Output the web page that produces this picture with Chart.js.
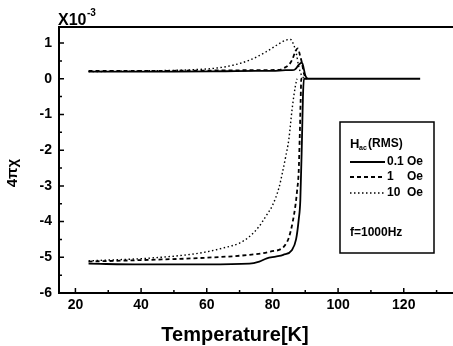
<!DOCTYPE html>
<html>
<head>
<meta charset="utf-8">
<script src="https://cdn.jsdelivr.net/npm/chart.js@4.4.1/dist/chart.umd.min.js"></script>
<style>
  html, body { margin: 0; padding: 0; background: #fff; }
  canvas { display: block; }
</style>
</head>
<body>
<canvas id="chiChart" width="453" height="346"></canvas>
<script>
// 4πχ (x10^-3) vs temperature, three ac field amplitudes
const tempSolidLow  = [24, 40, 60, 73, 76, 78.3, 81, 83.3, 85.9, 87.2, 88, 88.5, 89, 89.3, 89.6, 100, 125];
const chiSolidLow   = [-5.18, -5.2, -5.2, -5.18, -5.12, -5.03, -4.98, -4.93, -4.8, -4.5, -3.95, -3.4, -1.7, -0.5, 0, 0, 0];
const tempSolidHigh = [24, 35, 50, 65, 75, 80, 84, 86, 87, 88, 89, 90, 90.6];
const chiSolidHigh  = [0.2, 0.2, 0.2, 0.21, 0.22, 0.22, 0.24, 0.24, 0.27, 0.39, 0.45, 0.1, 0];

const tempDashLow  = [24, 43, 58, 73, 79.4, 83.5, 85, 86.2, 87, 87.5, 88, 88.3, 88.6, 88.8, 90];
const chiDashLow   = [-5.12, -5.07, -5.02, -4.93, -4.84, -4.7, -4.45, -4.0, -3.55, -3.15, -2.6, -1.7, -0.6, 0, 0];
const tempDashHigh = [24, 40, 60, 75, 82, 83.5, 85, 86, 87, 87.7, 88.5, 89, 89.6, 90.4];
const chiDashHigh  = [0.22, 0.22, 0.23, 0.24, 0.25, 0.3, 0.39, 0.53, 0.76, 0.85, 0.62, 0.44, 0.15, 0];

const tempDotLow  = [24, 43, 58, 65, 70, 73, 76, 78, 80, 82, 83, 84, 85, 86, 87, 87.5];
const chiDotLow   = [-5.1, -5.02, -4.88, -4.74, -4.6, -4.42, -4.13, -3.85, -3.55, -3.05, -2.65, -2.2, -1.7, -0.85, -0.2, 0];
const tempDotHigh = [24, 40, 55, 63, 68, 73, 78, 82, 84, 85.5, 86.5, 87.3, 88, 89, 90.5];
const chiDotHigh  = [0.2, 0.22, 0.25, 0.3, 0.38, 0.52, 0.75, 0.98, 1.08, 1.1, 0.95, 0.7, 0.35, 0.08, 0];

const xMajorTicks = [20, 40, 60, 80, 100, 120];
const xMinorTicks = [30, 50, 70, 90, 110, 130];
const yMajorTicks = [-6, -5, -4, -3, -2, -1, 0, 1];
const yMinorTicks = [-5.5, -4.5, -3.5, -2.5, -1.5, -0.5, 0.5];

const legendLabels = ["0.1", "1", "10"];
const FONT = "'Liberation Sans', Arial, sans-serif";

function pts(xs, ys) {
    return xs.map((x, i) => ({ x: x, y: ys[i] }));
}

function series(xs, ys, width, dash) {
    return {
        data: pts(xs, ys),
        borderColor: "#000",
        borderWidth: width,
        borderDash: dash,
        pointRadius: 0,
        fill: false,
        cubicInterpolationMode: "monotone"
    };
}

const SOLID = [], DASH = [4, 3], DOT = [1.5, 2.5];

const overlay = {
    id: "overlay",
    afterDraw(chart) {
        const ctx = chart.ctx;
        const area = chart.chartArea;
        const xs = chart.scales.x, ys = chart.scales.y;

        ctx.save();
        ctx.strokeStyle = "#000";
        ctx.fillStyle = "#000";

        // top frame
        ctx.lineWidth = 2;
        ctx.beginPath();
        ctx.moveTo(area.left - 1, area.top);
        ctx.lineTo(area.right, area.top);
        ctx.stroke();

        // inward tick marks
        ctx.lineWidth = 1.5;
        ctx.beginPath();
        xMajorTicks.forEach(v => { const p = xs.getPixelForValue(v); ctx.moveTo(p, area.bottom); ctx.lineTo(p, area.bottom - 5); });
        xMinorTicks.forEach(v => { const p = xs.getPixelForValue(v); ctx.moveTo(p, area.bottom); ctx.lineTo(p, area.bottom - 3); });
        yMajorTicks.forEach(v => { const p = ys.getPixelForValue(v); ctx.moveTo(area.left, p); ctx.lineTo(area.left + 5, p); });
        yMinorTicks.forEach(v => { const p = ys.getPixelForValue(v); ctx.moveTo(area.left, p); ctx.lineTo(area.left + 3, p); });
        ctx.stroke();

        // multiplier
        ctx.textBaseline = "alphabetic";
        ctx.textAlign = "left";
        ctx.font = "bold 16px " + FONT;
        ctx.fillText("X10", 58, 25);
        ctx.font = "bold 10px " + FONT;
        ctx.fillText("-3", 87, 16);

        // axis titles
        ctx.textBaseline = "middle";
        ctx.textAlign = "center";
        ctx.font = "bold 20px " + FONT;
        ctx.fillText("Temperature[K]", 235, 335);
        ctx.save();
        ctx.translate(13, 173);
        ctx.rotate(-Math.PI / 2);
        ctx.font = "bold 15px " + FONT;
        ctx.fillText("4πχ", 0, 0);
        ctx.restore();

        // legend box
        ctx.lineWidth = 1.5;
        ctx.strokeRect(340, 122, 94, 131);

        ctx.textAlign = "left";
        ctx.textBaseline = "middle";
        ctx.font = "bold 13px " + FONT;
        ctx.fillText("H", 350, 144);
        ctx.font = "bold 7px " + FONT;
        ctx.fillText("ac", 359, 148);
        ctx.font = "bold 12px " + FONT;
        ctx.fillText("(RMS)", 368, 144);

        const dashes = [SOLID, DASH, DOT];
        const widths = [1.8, 1.8, 1.4];
        const rowY = [162, 177, 193];
        legendLabels.forEach((lab, i) => {
            ctx.setLineDash(dashes[i]);
            ctx.lineWidth = widths[i];
            ctx.beginPath();
            ctx.moveTo(350, rowY[i]);
            ctx.lineTo(385, rowY[i]);
            ctx.stroke();
            ctx.setLineDash([]);
            ctx.font = "bold 12px " + FONT;
            ctx.fillText(lab, 387, rowY[i]);
            ctx.fillText("Oe", 407, rowY[i]);
        });

        ctx.font = "bold 12px " + FONT;
        ctx.fillText("f=1000Hz", 350, 233);

        ctx.restore();
    }
};

new Chart(document.getElementById("chiChart"), {
    type: "line",
    data: {
        datasets: [
            series(tempSolidLow, chiSolidLow, 1.8, SOLID),
            series(tempSolidHigh, chiSolidHigh, 1.8, SOLID),
            series(tempDashLow, chiDashLow, 1.8, DASH),
            series(tempDashHigh, chiDashHigh, 1.8, DASH),
            series(tempDotLow, chiDotLow, 1.4, DOT),
            series(tempDotHigh, chiDotHigh, 1.4, DOT)
        ]
    },
    options: {
        responsive: false,
        animation: false,
        devicePixelRatio: 1,
        layout: { padding: { top: 27, left: 0, right: 0, bottom: 0 } },
        plugins: { legend: { display: false }, tooltip: { enabled: false } },
        scales: {
            x: {
                type: "linear",
                min: 15,
                max: 135,
                grid: { display: false, drawTicks: false },
                border: { display: true, color: "#000", width: 2 },
                afterBuildTicks: s => { s.ticks = xMajorTicks.map(v => ({ value: v })); },
                afterFit: s => { s.height = 53; },
                ticks: {
                    color: "#000",
                    padding: 4,
                    maxRotation: 0,
                    font: { family: FONT, size: 14, weight: "bold" }
                }
            },
            y: {
                type: "linear",
                min: -6,
                max: 1.45,
                grid: { display: false, drawTicks: false },
                border: { display: true, color: "#000", width: 2 },
                afterBuildTicks: s => { s.ticks = yMajorTicks.map(v => ({ value: v })); },
                afterFit: s => { s.width = 59; },
                ticks: {
                    color: "#000",
                    padding: 7,
                    font: { family: FONT, size: 14, weight: "bold" }
                }
            }
        }
    },
    plugins: [overlay]
});
</script>
</body>
</html>
